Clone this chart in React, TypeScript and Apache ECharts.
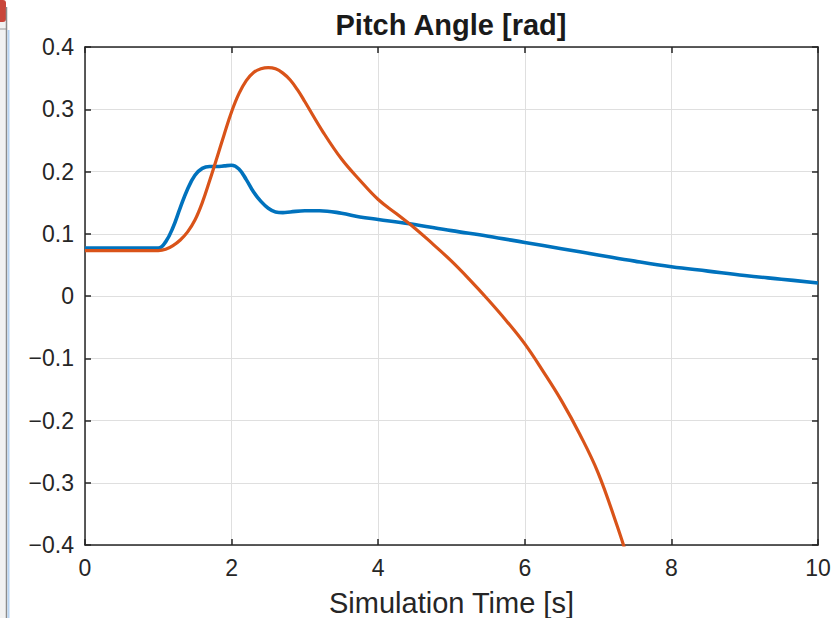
import React, { useEffect, useRef } from "react";
import * as echarts from "echarts";

const blueT = [0, 0.5, 1.0, 1.1, 1.2, 1.3, 1.4, 1.5, 1.6, 1.7, 1.8, 1.9, 2.0, 2.1, 2.2, 2.3, 2.4, 2.5, 2.6, 2.7, 2.8, 3.0, 3.2, 3.5, 3.75, 4.0, 4.43, 5.0, 5.5, 6.0, 6.5, 7.0, 7.5, 8.0, 8.5, 9.0, 9.5, 10];
const blueV = [0.077, 0.077, 0.077, 0.087, 0.11, 0.142, 0.172, 0.194, 0.205, 0.208, 0.208, 0.209, 0.21, 0.204, 0.187, 0.167, 0.152, 0.141, 0.135, 0.134, 0.135, 0.137, 0.137, 0.133, 0.127, 0.123, 0.116, 0.105, 0.096, 0.086, 0.076, 0.066, 0.056, 0.047, 0.04, 0.033, 0.027, 0.021];

const orangeT = [0, 0.5, 1.0, 1.1, 1.2, 1.3, 1.4, 1.5, 1.6, 1.7, 1.8, 1.9, 2.0, 2.1, 2.2, 2.3, 2.4, 2.5, 2.6, 2.7, 2.8, 2.9, 3.0, 3.25, 3.5, 3.75, 4.0, 4.25, 4.5, 4.75, 5.0, 5.25, 5.5, 5.75, 6.0, 6.25, 6.5, 6.75, 7.0, 7.25, 7.4];
const orangeV = [0.073, 0.073, 0.073, 0.075, 0.081, 0.09, 0.103, 0.122, 0.15, 0.185, 0.222, 0.26, 0.296, 0.325, 0.346, 0.359, 0.365, 0.367, 0.365, 0.358, 0.347, 0.331, 0.312, 0.263, 0.22, 0.186, 0.155, 0.132, 0.109, 0.083, 0.056, 0.026, -0.006, -0.04, -0.077, -0.121, -0.168, -0.222, -0.284, -0.366, -0.42];

const xTicks = { min: 0, max: 10, interval: 2 };
const yTicks = { min: -0.4, max: 0.4, interval: 0.1 };

const titleText = "Pitch Angle [rad]";
const xName = "Simulation Time [s]";

const FONT = "'Liberation Sans', Helvetica, Arial, sans-serif";
const AX = "#262626";

const fmtY = (v: number) => {
  const r = Math.round(v * 10) / 10;
  if (r === 0) return "0";
  return (r < 0 ? "\u2212" : "") + Math.abs(r).toFixed(1);
};

export default function App() {
  const ref = useRef<HTMLDivElement>(null);
  useEffect(() => {
    if (!ref.current) return;
    const chart = echarts.init(ref.current, undefined, { renderer: "svg" });
    const blue = blueT.map((t, i) => [t, blueV[i]]);
    const orange = orangeT.map((t, i) => [t, orangeV[i]]);
    const axisLine = { show: true, onZero: false, lineStyle: { color: AX, width: 1.5 } };
    const tick = { show: true, inside: true, length: 6, lineStyle: { color: AX, width: 1.5 } };
    chart.setOption({
      animation: false,
      backgroundColor: "#ffffff",
      grid: { left: 85, right: 18, top: 47, bottom: 73, containLabel: false, outerBoundsMode: "none" },
      xAxis: [
        {
          type: "value",
          ...xTicks,
          position: "bottom",
          axisLine,
          axisTick: tick,
          splitLine: { show: true, lineStyle: { color: "#dfdfdf", width: 1 } },
          axisLabel: { color: AX, fontSize: 23, fontFamily: FONT, margin: 11 },
          name: xName,
          nameLocation: "middle",
          nameGap: 43,
          nameTextStyle: { color: AX, fontSize: 29, fontFamily: FONT, verticalAlign: "top" },
        },
        {
          type: "value",
          ...xTicks,
          position: "top",
          axisLine,
          axisTick: tick,
          splitLine: { show: false },
          axisLabel: { show: false },
        },
      ],
      yAxis: [
        {
          type: "value",
          ...yTicks,
          position: "left",
          axisLine,
          axisTick: tick,
          splitLine: { show: true, lineStyle: { color: "#dfdfdf", width: 1 } },
          axisLabel: { color: AX, fontSize: 23, fontFamily: FONT, margin: 11, formatter: fmtY },
        },
        {
          type: "value",
          ...yTicks,
          position: "right",
          axisLine,
          axisTick: tick,
          splitLine: { show: false },
          axisLabel: { show: false },
        },
      ],
      graphic: [
        {
          type: "text",
          x: 451,
          y: 10,
          style: {
            text: titleText,
            fill: "#1a1a1a",
            font: `bold 29px ${FONT}`,
            textAlign: "center",
            textVerticalAlign: "top",
          },
        },
        { type: "rect", shape: { x: 0, y: 22, width: 6, height: 596 }, style: { fill: "#f2f2f2" } },
        { type: "rect", shape: { x: 0, y: 0, width: 6, height: 22, r: [0, 3, 3, 0] }, style: { fill: "#c9463a" } },
        { type: "line", shape: { x1: 0, y1: 29, x2: 6, y2: 29 }, style: { stroke: "#9a9a9a", lineWidth: 1 } },
        { type: "line", shape: { x1: 6.5, y1: 7, x2: 6.5, y2: 618 }, style: { stroke: "#8c8c8c", lineWidth: 1.5 } },
        { type: "line", shape: { x1: 8.5, y1: 30, x2: 8.5, y2: 618 }, style: { stroke: "#b8d4f2", lineWidth: 2 } },
      ],
      series: [
        {
          type: "line",
          data: blue,
          smooth: 0.4,
          showSymbol: false,
          symbol: "none",
          clip: true,
          lineStyle: { color: "#0072BD", width: 3.6 },
          z: 3,
        },
        {
          type: "line",
          data: orange,
          smooth: 0.4,
          showSymbol: false,
          symbol: "none",
          clip: true,
          lineStyle: { color: "#D95319", width: 3.2 },
          z: 4,
        },
      ],
    });
    return () => chart.dispose();
  }, []);
  return (
    <div
      ref={ref}
      style={{ position: "fixed", left: 0, top: 0, width: 836, height: 618, background: "#fff" }}
    />
  );
}
